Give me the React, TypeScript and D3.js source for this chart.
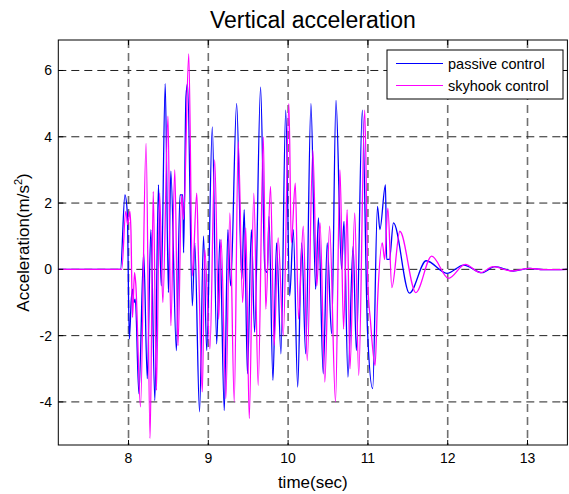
import React from "react";
import * as d3 from "d3";

const W = 569;
const H = 494;

const xTicks = [8, 9, 10, 11, 12, 13];
const yTicks = [-4, -2, 0, 2, 4, 6];

const seriesNames = ["passive control", "skyhook control"];
const seriesColors = ["#0000ff", "#ff00ff"];

// passive control: [time, acceleration]
const passiveT = [7.12, 7.9, 7.955, 7.985, 8.01, 8.035, 8.05, 8.07, 8.085, 8.13, 8.19, 8.235, 8.28, 8.33, 8.375, 8.41, 8.46, 8.5, 8.53, 8.6, 8.645, 8.68, 8.69, 8.72, 8.74, 8.8, 8.83, 8.89, 8.94, 8.98, 9.05, 9.105, 9.145, 9.2, 9.245, 9.28, 9.355, 9.42, 9.45, 9.49, 9.54, 9.58, 9.655, 9.71, 9.74, 9.76, 9.81, 9.855, 9.91, 9.97, 10.02, 10.065, 10.12, 10.17, 10.22, 10.286, 10.345, 10.38, 10.44, 10.49, 10.545, 10.6, 10.67, 10.7, 10.75, 10.815, 10.855, 10.93, 10.995, 11.06, 11.12, 11.15, 11.22, 11.235, 11.27, 11.32, 11.52, 11.73, 11.99, 12.2, 12.43, 12.59, 12.82, 13.03, 13.2, 13.5];
const passiveV = [0, 0, 2.25, 1.7, -2.1, -0.9, -0.6, -1.0, -0.9, -3.75, 0.5, -3.3, 1.2, -3.96, 2.55, -0.5, 5.6, -0.7, 2.96, -2.45, 2.25, 2.25, 0.5, 5.2, 5.6, -1.1, 0.8, -4.3, 1.0, -2.45, 4.3, -2.25, 0.9, -4.26, 1.2, -0.5, 5.0, -0.3, 1.8, -3.15, 1.2, -1.9, 5.5, 0.0, -0.1, 1.6, -3.35, 0.8, -2.55, 4.8, -0.8, 1.2, -3.55, 0.8, -2.55, 5.0, -0.6, 1.55, -3.15, 0.8, -1.95, 5.1, 0.0, 1.45, -3.25, 0.7, -2.45, 4.8, -1.85, -3.6, 1.9, 1.2, 2.55, 0.3, 0.3, 1.4, -0.72, 0.26, -0.12, 0.13, -0.1, 0.08, -0.05, 0.03, -0.01, 0];

// skyhook control: [time, acceleration]
const skyhookT = [7.12, 7.915, 7.965, 7.99, 8.017, 8.03, 8.05, 8.075, 8.09, 8.15, 8.22, 8.27, 8.31, 8.35, 8.39, 8.43, 8.495, 8.53, 8.58, 8.62, 8.665, 8.69, 8.755, 8.8, 8.855, 8.875, 8.925, 8.955, 9.02, 9.08, 9.13, 9.16, 9.22, 9.27, 9.325, 9.375, 9.43, 9.47, 9.513, 9.57, 9.625, 9.69, 9.72, 9.78, 9.825, 9.875, 9.94, 10.01, 10.04, 10.09, 10.13, 10.19, 10.24, 10.31, 10.36, 10.4, 10.46, 10.52, 10.594, 10.65, 10.695, 10.74, 10.775, 10.835, 10.885, 10.96, 11.0, 11.03, 11.09, 11.12, 11.18, 11.21, 11.25, 11.3, 11.4, 11.6, 11.8, 12.01, 12.22, 12.41, 12.57, 12.8, 13.03, 13.2, 13.5];
const skyhookV = [0, 0, 1.75, 1.35, 1.75, 1.2, -1.45, -0.1, -0.4, -4.15, 3.8, -5.1, 2.35, -3.65, 2.3, -1.0, 4.62, -1.7, 3.0, -2.3, 2.25, 1.5, 6.5, -0.2, 2.3, 0.5, -3.7, 0.6, -2.4, 3.3, -1.5, 0.9, -3.9, 1.7, -4.0, 3.85, -1.0, 1.25, -4.5, 2.3, -3.5, 4.0, -1.2, 2.5, -2.3, 0.95, -2.0, 5.0, 0.8, 2.6, -1.5, 1.3, -2.75, 3.6, -0.5, 1.4, -3.4, 1.3, -4.0, 3.0, -1.8, 1.8, -3.0, 1.7, -3.2, 4.8, -0.5, -1.5, -2.9, -1.0, 0.8, 0.3, 1.85, -0.55, 1.15, -0.7, 0.4, -0.27, 0.15, -0.1, 0.08, -0.05, 0.03, -0.01, 0];

const FONT = "'Liberation Sans', Arial, Helvetica, sans-serif";

export default function App() {
  const left = 58.3;
  const right = 567.4;
  const top = 40;
  const bottom = 445;

  const x = d3.scaleLinear().domain([7.12, 13.5]).range([left, right]);
  const y = d3.scaleLinear().domain([-5.3, 6.92]).range([bottom, top]);

  const line = d3
    .line<[number, number]>()
    .x((d) => x(d[0]))
    .y((d) => y(d[1]))
    .curve(d3.curveMonotoneX);

  const passive: [number, number][] = passiveT.map((t, i) => [t, passiveV[i]]);
  const skyhook: [number, number][] = skyhookT.map((t, i) => [t, skyhookV[i]]);

  const tickLen = 5;

  return (
    <svg
      width={W}
      height={H}
      style={{ position: "absolute", left: 0, top: 0, background: "#fff" }}
      fontFamily={FONT}
    >
      <rect x={0} y={0} width={W} height={H} fill="#fff" />
      <defs>
        <clipPath id="plotclip">
          <rect x={left} y={top} width={right - left} height={bottom - top} />
        </clipPath>
      </defs>
      {xTicks.map((t) => (
        <line
          key={"gx" + t}
          x1={x(t)}
          x2={x(t)}
          y1={top}
          y2={bottom}
          stroke="#707070"
          strokeWidth={1.6}
          strokeDasharray="8,5"
        />
      ))}
      {yTicks.map((t) => (
        <line
          key={"gy" + t}
          x1={left}
          x2={right}
          y1={y(t)}
          y2={y(t)}
          stroke="#222"
          strokeWidth={1}
          strokeDasharray="8,5"
        />
      ))}
      <g clipPath="url(#plotclip)" fill="none" strokeWidth={1.3} strokeLinejoin="round">
        <path d={line(passive) || ""} stroke={seriesColors[0]} />
        <path d={line(skyhook) || ""} stroke={seriesColors[1]} />
      </g>
      <rect x={left} y={top} width={right - left} height={bottom - top} fill="none" stroke="#000" strokeWidth={1} />
      {xTicks.map((t) => (
        <g key={"tx" + t}>
          <line x1={x(t)} x2={x(t)} y1={bottom} y2={bottom - tickLen} stroke="#000" />
          <line x1={x(t)} x2={x(t)} y1={top} y2={top + tickLen} stroke="#000" />
          <text x={x(t)} y={463} fontSize={14} textAnchor="middle" fill="#000">
            {t}
          </text>
        </g>
      ))}
      {yTicks.map((t) => (
        <g key={"ty" + t}>
          <line x1={left} x2={left + tickLen} y1={y(t)} y2={y(t)} stroke="#000" />
          <line x1={right} x2={right - tickLen} y1={y(t)} y2={y(t)} stroke="#000" />
          <text x={52} y={y(t) + 5} fontSize={14} textAnchor="end" fill="#000">
            {t}
          </text>
        </g>
      ))}
      <text x={(left + right) / 2} y={28} fontSize={23} textAnchor="middle" fill="#000">
        Vertical acceleration
      </text>
      <text x={(left + right) / 2} y={488} fontSize={17} textAnchor="middle" fill="#000">
        time(sec)
      </text>
      <text
        transform={`translate(29, ${(top + bottom) / 2}) rotate(-90)`}
        fontSize={17}
        textAnchor="middle"
        fill="#000"
      >
        Acceleration(m/s
        <tspan fontSize={11} dy={-7}>2</tspan>
        <tspan dy={7}>)</tspan>
      </text>
      <g>
        <rect x={387} y={50} width={176} height={49} fill="#fff" stroke="#000" strokeWidth={1} />
        {seriesNames.map((n, i) => (
          <g key={n}>
            <line x1={396} x2={443} y1={63.5 + i * 22} y2={63.5 + i * 22} stroke={seriesColors[i]} strokeWidth={1} />
            <text x={448} y={68.5 + i * 22} fontSize={14.5} fill="#000">
              {n}
            </text>
          </g>
        ))}
      </g>
    </svg>
  );
}
